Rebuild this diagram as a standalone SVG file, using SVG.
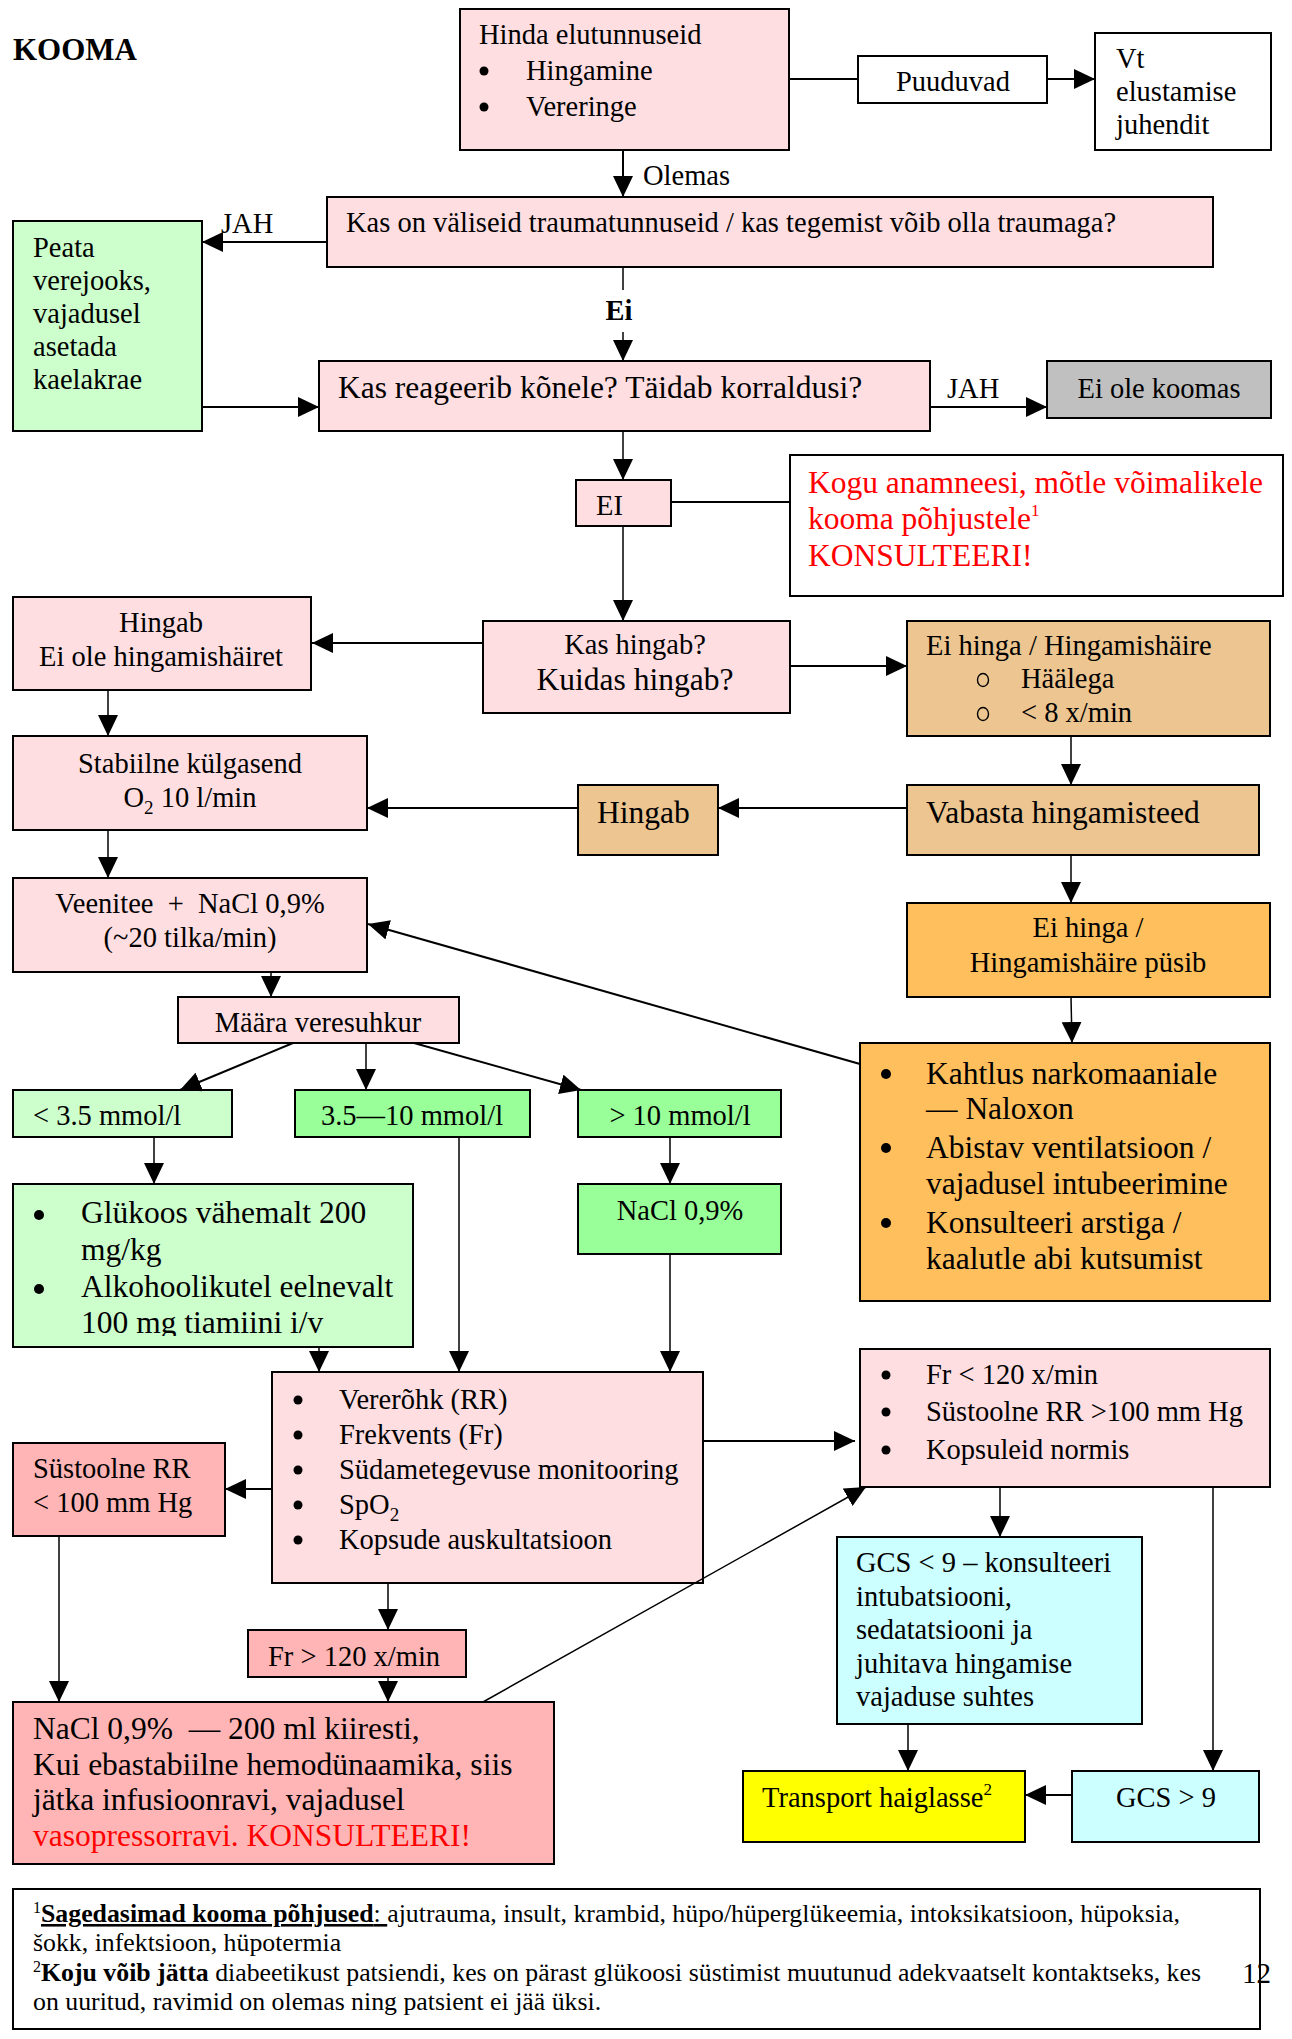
<svg xmlns="http://www.w3.org/2000/svg" width="1292" height="2039" viewBox="0 0 1292 2039">
<defs>
<style>
rect{stroke:#000;stroke-width:2}
.pk{fill:#FFDEE1}.wh{fill:#FFFFFF}.lg{fill:#CCFFCC}.gr{fill:#99FF99}.tn{fill:#ECC590}.or{fill:#FFBF5C}.sa{fill:#FFB5B5}.cy{fill:#CCFFFF}.ye{fill:#FFFF00}.gy{fill:#C0C0C0}
text{font-family:"Liberation Serif","Times New Roman",serif;font-size:28.5px;fill:#000}
.L{font-size:31.5px}
.c{text-anchor:middle}
.red{fill:#FF0000}
.bd{font-weight:bold}
.fn{font-size:25.8px}
.sup{font-size:17px}
.bul{fill:#000}
.cir{fill:none;stroke:#000;stroke-width:1.4}
.cn line{stroke:#000;stroke-width:2;fill:none}
.cn line.th{stroke-width:1.5}
.cn line.a{marker-end:url(#ah)}
</style>
<marker id="ah" markerUnits="userSpaceOnUse" markerWidth="21" markerHeight="20" refX="21" refY="10" orient="auto"><path d="M0,0 L21,10 L0,20 z" fill="#000"/></marker>
<clipPath id="clipG"><rect x="13" y="1184" width="400" height="152" style="stroke:none"/></clipPath>
</defs>
<rect x="0" y="0" width="1292" height="2039" fill="#FFFFFF" style="stroke:none"/>

<g id="title"><text x="13" y="60" class="bd" style="font-size:31px">KOOMA</text></g>

<g id="n-hinda"><rect class="pk" x="460" y="9" width="329" height="141"/>
<text x="479" y="44">Hinda elutunnuseid</text>
<circle class="bul" cx="484" cy="71" r="4.5"/><text x="526" y="80">Hingamine</text>
<circle class="bul" cx="484" cy="107" r="4.5"/><text x="526" y="116">Vereringe</text></g>

<g id="n-puuduvad"><rect class="wh" x="858" y="56" width="189" height="47"/><text x="953" y="91" class="c">Puuduvad</text></g>

<g id="n-vt"><rect class="wh" x="1095" y="33" width="176" height="117"/>
<text x="1116" y="68">Vt</text><text x="1116" y="101">elustamise</text><text x="1116" y="134">juhendit</text></g>

<g id="n-trauma"><rect class="pk" x="327" y="197" width="886" height="70"/>
<text x="346" y="232">Kas on väliseid traumatunnuseid / kas tegemist võib olla traumaga?</text></g>

<g id="n-peata"><rect class="lg" x="13" y="221" width="189" height="210"/>
<text x="33" y="257">Peata</text><text x="33" y="290">verejooks,</text><text x="33" y="323">vajadusel</text><text x="33" y="356">asetada</text><text x="33" y="389">kaelakrae</text></g>

<g id="n-reageerib"><rect class="pk" x="319" y="361" width="611" height="70"/>
<text x="338" y="398" class="L">Kas reageerib kõnele? Täidab korraldusi?</text></g>

<g id="n-eiolekoomas"><rect class="gy" x="1047" y="361" width="224" height="57"/><text x="1159" y="398" class="c">Ei ole koomas</text></g>

<g id="n-EI"><rect class="pk" x="576" y="480" width="95" height="46"/><text x="596" y="515">EI</text></g>

<g id="n-kogu"><rect class="wh" x="790" y="455" width="493" height="141"/>
<text x="808" y="493" class="L red">Kogu anamneesi, mõtle võimalikele</text>
<text x="808" y="529" class="L red">kooma põhjustele<tspan class="sup" dy="-13">1</tspan></text>
<text x="808" y="566" class="L red">KONSULTEERI!</text></g>

<g id="n-kashingab"><rect class="pk" x="483" y="621" width="307" height="92"/>
<text x="635" y="654" class="c">Kas hingab?</text>
<text x="635" y="690" class="c L">Kuidas hingab?</text></g>

<g id="n-hingab"><rect class="pk" x="13" y="597" width="298" height="93"/>
<text x="161" y="632" class="c">Hingab</text><text x="161" y="666" class="c">Ei ole hingamishäiret</text></g>

<g id="n-eihinga"><rect class="tn" x="907" y="621" width="363" height="115"/>
<text x="926" y="655">Ei hinga / Hingamishäire</text>
<ellipse class="cir" cx="983" cy="680" rx="5.5" ry="6.5"/><text x="1021" y="688">Häälega</text>
<ellipse class="cir" cx="983" cy="714" rx="5.5" ry="6.5"/><text x="1021" y="722">&lt; 8 x/min</text></g>

<g id="n-stabiilne"><rect class="pk" x="13" y="736" width="354" height="94"/>
<text x="190" y="773" class="c">Stabiilne külgasend</text>
<text x="190" y="807" class="c">O<tspan style="font-size:19px" dy="7">2</tspan><tspan dy="-7"> 10 l/min</tspan></text></g>

<g id="n-vabasta"><rect class="tn" x="907" y="785" width="352" height="70"/><text x="926" y="823" class="L">Vabasta hingamisteed</text></g>

<g id="n-hingab2"><rect class="tn" x="578" y="785" width="140" height="70"/><text x="597" y="823" class="L">Hingab</text></g>

<g id="n-veenitee"><rect class="pk" x="13" y="878" width="354" height="94"/>
<text x="190" y="913" class="c">Veenitee&#160; +&#160; NaCl 0,9%</text>
<text x="190" y="947" class="c">(~20 tilka/min)</text></g>

<g id="n-pusib"><rect class="or" x="907" y="903" width="363" height="94"/>
<text x="1088" y="937" class="c">Ei hinga /</text><text x="1088" y="972" class="c">Hingamishäire püsib</text></g>

<g id="n-kahtlus"><rect class="or" x="860" y="1043" width="410" height="258"/>
<circle class="bul" cx="886" cy="1074" r="5"/><text x="926" y="1084" class="L">Kahtlus narkomaaniale</text>
<text x="926" y="1119" class="L">— Naloxon</text>
<circle class="bul" cx="886" cy="1148" r="5"/><text x="926" y="1158" class="L">Abistav ventilatsioon /</text>
<text x="926" y="1194" class="L">vajadusel intubeerimine</text>
<circle class="bul" cx="886" cy="1223" r="5"/><text x="926" y="1233" class="L">Konsulteeri arstiga /</text>
<text x="926" y="1269" class="L">kaalutle abi kutsumist</text></g>

<g id="n-maara"><rect class="pk" x="178" y="997" width="281" height="46"/><text x="318" y="1032" class="c">Määra veresuhkur</text></g>

<g id="n-lt35"><rect class="lg" x="13" y="1090" width="219" height="47"/><text x="33" y="1125">&lt; 3.5 mmol/l</text></g>
<g id="n-35to10"><rect class="gr" x="295" y="1090" width="235" height="47"/><text x="412" y="1125" class="c">3.5—10 mmol/l</text></g>
<g id="n-gt10"><rect class="gr" x="578" y="1090" width="203" height="47"/><text x="680" y="1125" class="c">&gt; 10 mmol/l</text></g>

<g id="n-glukoos"><rect class="lg" x="13" y="1184" width="400" height="163"/>
<g clip-path="url(#clipG)">
<circle class="bul" cx="39" cy="1215" r="5"/><text x="81" y="1223" class="L">Glükoos vähemalt 200</text>
<text x="81" y="1260" class="L">mg/kg</text>
<circle class="bul" cx="39" cy="1289" r="5"/><text x="81" y="1297" class="L">Alkohoolikutel eelnevalt</text>
<text x="81" y="1333" class="L">100 mg tiamiini i/v</text></g></g>

<g id="n-nacl"><rect class="gr" x="578" y="1184" width="203" height="70"/><text x="680" y="1220" class="c">NaCl 0,9%</text></g>

<g id="n-vererohk"><rect class="pk" x="272" y="1372" width="431" height="211"/>
<circle class="bul" cx="298" cy="1400" r="4.5"/><text x="339" y="1409">Vererõhk (RR)</text>
<circle class="bul" cx="298" cy="1435" r="4.5"/><text x="339" y="1444">Frekvents (Fr)</text>
<circle class="bul" cx="298" cy="1470" r="4.5"/><text x="339" y="1479">Südametegevuse monitooring</text>
<circle class="bul" cx="298" cy="1505" r="4.5"/><text x="339" y="1514">SpO<tspan style="font-size:19px" dy="7">2</tspan></text>
<circle class="bul" cx="298" cy="1540" r="4.5"/><text x="339" y="1549">Kopsude auskultatsioon</text></g>

<g id="n-systlt100"><rect class="sa" x="13" y="1443" width="212" height="93"/>
<text x="33" y="1478">Süstoolne RR</text><text x="33" y="1512">&lt; 100 mm Hg</text></g>

<g id="n-frlt120"><rect class="pk" x="860" y="1349" width="410" height="138"/>
<circle class="bul" cx="886" cy="1375" r="4.5"/><text x="926" y="1384">Fr &lt; 120 x/min</text>
<circle class="bul" cx="886" cy="1412" r="4.5"/><text x="926" y="1421">Süstoolne RR &gt;100 mm Hg</text>
<circle class="bul" cx="886" cy="1450" r="4.5"/><text x="926" y="1459">Kopsuleid normis</text></g>

<g id="n-frgt120"><rect class="sa" x="248" y="1630" width="218" height="47"/><text x="268" y="1666">Fr &gt; 120 x/min</text></g>

<g id="n-nacl200"><rect class="sa" x="13" y="1702" width="541" height="162"/>
<text x="33" y="1739" class="L">NaCl 0,9%&#160; — 200 ml kiiresti,</text>
<text x="33" y="1775" class="L">Kui ebastabiilne hemodünaamika, siis</text>
<text x="33" y="1810" class="L">jätka infusioonravi, vajadusel</text>
<text x="33" y="1846" class="L red">vasopressorravi. KONSULTEERI!</text></g>

<g id="n-gcslt9"><rect class="cy" x="837" y="1537" width="305" height="187"/>
<text x="856" y="1572">GCS &lt; 9 – konsulteeri</text>
<text x="856" y="1606">intubatsiooni,</text>
<text x="856" y="1639">sedatatsiooni ja</text>
<text x="856" y="1673">juhitava hingamise</text>
<text x="856" y="1706">vajaduse suhtes</text></g>

<g id="n-transport"><rect class="ye" x="743" y="1771" width="282" height="71"/>
<text x="762" y="1807">Transport haiglasse<tspan class="sup" dy="-12">2</tspan></text></g>

<g id="n-gcsgt9"><rect class="cy" x="1072" y="1771" width="187" height="71"/><text x="1166" y="1807" class="c">GCS &gt; 9</text></g>

<g id="n-footnote"><rect class="wh" x="13" y="1889" width="1247" height="140"/>
<text x="33" y="1922" class="fn"><tspan class="sup" dy="-9" style="font-size:16px">1</tspan><tspan dy="9" class="bd" text-decoration="underline">Sagedasimad kooma põhjused</tspan><tspan text-decoration="underline">: </tspan>ajutrauma, insult, krambid, hüpo/hüperglükeemia, intoksikatsioon, hüpoksia,</text>
<text x="33" y="1951" class="fn">šokk, infektsioon, hüpotermia</text>
<text x="33" y="1981" class="fn"><tspan class="sup" dy="-9" style="font-size:16px">2</tspan><tspan dy="9" class="bd">Koju võib jätta</tspan> diabeetikust patsiendi, kes on pärast glükoosi süstimist muutunud adekvaatselt kontaktseks, kes</text>
<text x="33" y="2010" class="fn">on uuritud, ravimid on olemas ning patsient ei jää üksi.</text></g>

<g id="pagenum"><text x="1242" y="1983" style="font-size:29px">12</text></g>

<g id="connectors" class="cn">
<line x1="789" y1="79" x2="858" y2="79"/>
<line class="a" x1="1047" y1="79" x2="1095" y2="79"/>
<line class="a" x1="623" y1="150" x2="623" y2="197"/>
<line class="a" x1="327" y1="242" x2="202" y2="242"/>
<line class="a" x1="202" y1="407" x2="319" y2="407"/>
<line class="th" x1="623" y1="267" x2="623" y2="290"/>
<line class="a th" x1="623" y1="332" x2="623" y2="361"/>
<line class="a" x1="930" y1="407" x2="1047" y2="407"/>
<line class="a th" x1="623" y1="431" x2="623" y2="480"/>
<line x1="671" y1="502" x2="790" y2="502"/>
<line class="a th" x1="623" y1="526" x2="623" y2="621"/>
<line class="a" x1="483" y1="643" x2="312" y2="643"/>
<line class="a" x1="790" y1="666" x2="907" y2="666"/>
<line class="a th" x1="108" y1="690" x2="108" y2="736"/>
<line class="a th" x1="1071" y1="736" x2="1071" y2="785"/>
<line class="a" x1="907" y1="808" x2="718" y2="808"/>
<line class="a" x1="578" y1="808" x2="367" y2="808"/>
<line class="a th" x1="108" y1="830" x2="108" y2="878"/>
<line class="a th" x1="1071" y1="855" x2="1071" y2="903"/>
<line class="a th" x1="1071" y1="997" x2="1072" y2="1043"/>
<line class="a" x1="860" y1="1064" x2="368" y2="924"/>
<line class="a th" x1="271" y1="972" x2="271" y2="997"/>
<line class="a" x1="293" y1="1043" x2="180" y2="1090"/>
<line class="a th" x1="366" y1="1043" x2="366" y2="1090"/>
<line class="a" x1="414" y1="1043" x2="581" y2="1090"/>
<line class="a th" x1="154" y1="1137" x2="154" y2="1184"/>
<line class="a th" x1="670" y1="1137" x2="670" y2="1184"/>
<line class="a th" x1="459" y1="1137" x2="459" y2="1372"/>
<line class="a th" x1="670" y1="1254" x2="670" y2="1372"/>
<line class="a th" x1="319" y1="1347" x2="319" y2="1372"/>
<line class="a" x1="272" y1="1489" x2="225" y2="1489"/>
<line class="a" x1="703" y1="1441" x2="855" y2="1441"/>
<line class="a th" x1="388" y1="1583" x2="388" y2="1630"/>
<line class="a th" x1="388" y1="1677" x2="388" y2="1702"/>
<line class="a th" x1="59" y1="1536" x2="59" y2="1702"/>
<line class="a th" x1="483" y1="1702" x2="866" y2="1487"/>
<line class="a th" x1="1000" y1="1487" x2="1000" y2="1537"/>
<line class="a th" x1="908" y1="1724" x2="908" y2="1771"/>
<line class="a th" x1="1213" y1="1487" x2="1213" y2="1771"/>
<line class="a" x1="1072" y1="1795" x2="1025" y2="1795"/>
</g>

<g id="labels">
<text x="643" y="185">Olemas</text>
<text x="221" y="233">JAH</text>
<text x="619" y="320" class="c bd">Ei</text>
<text x="947" y="398">JAH</text>
</g>
</svg>
